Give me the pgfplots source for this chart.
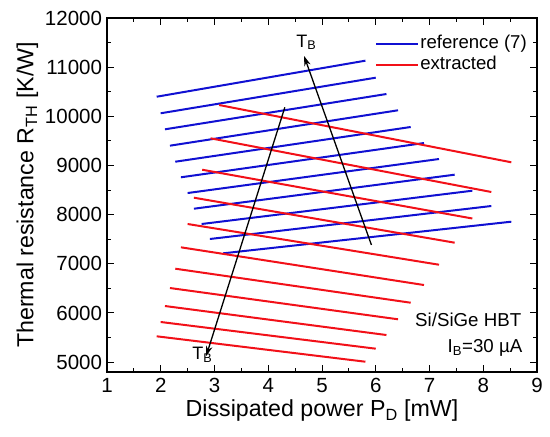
\documentclass[border=0pt]{standalone}
\usepackage{fontspec}
\setmainfont{Liberation Sans}
\usepackage{pgfplots}
\pgfplotsset{compat=1.18}
\usetikzlibrary{arrows.meta}
\definecolor{refblue}{RGB}{16,16,210}
\definecolor{extred}{RGB}{242,16,24}
\begin{document}
\begin{tikzpicture}
\begin{axis}[
  scale only axis, width=430pt, height=354pt,
  xmin=1, xmax=9, ymin=4800, ymax=12000,
  xtick={1,2,...,9}, minor x tick num=1,
  ytick={5000,6000,...,12000}, minor y tick num=1,
  scaled y ticks=false,
  /pgf/number format/1000 sep={},
  /pgf/number format/assume math mode=true,
  tick align=inside, major tick length=7pt, minor tick length=4pt,
  every tick/.style={black, line width=1pt},
  axis line style={line width=1.2pt},
  tick label style={font=\fontsize{20.5}{24}\selectfont},
  x tick label style={yshift=-3pt},
  y tick label style={xshift=-1.5pt},
  label style={font=\fontsize{23.2}{27}\selectfont},
  xlabel={Dissipated power P\textsubscript{D} [mW]},
  ylabel={Thermal resistance R\textsubscript{TH} [K/W]},
  legend style={draw=none, fill=none, at={(axis description cs:1,1)}, anchor=north east,
    xshift=-9pt, yshift=-16pt, inner sep=0pt, row sep=2.3pt,
    font=\fontsize{18.6}{21}\selectfont,
    nodes={inner sep=1pt, text height=13pt, text depth=4pt}},
  legend cell align=left,
  legend image code/.code={\draw[#1] (0pt,0pt) -- (42pt,0pt);},
  refl/.style={refblue, line width=2pt},
  extl/.style={extred, line width=2pt},
]
% reference (7) lines
\addplot[refl] coordinates {(1.924,10399) (5.808,11132)};
\addlegendentry{reference (7)}
\addplot[refl, forget plot] coordinates {(1.998,10062) (6.000,10786)};
\addplot[refl, forget plot] coordinates {(2.078,9736) (6.199,10454)};
\addplot[refl, forget plot] coordinates {(2.171,9403) (6.415,10123)};
\addplot[refl, forget plot] coordinates {(2.270,9077) (6.650,9783)};
\addplot[refl, forget plot] coordinates {(2.375,8760) (6.898,9457)};
\addplot[refl, forget plot] coordinates {(2.500,8440) (7.177,9132)};
\addplot[refl, forget plot] coordinates {(2.617,8121) (7.468,8813)};
\addplot[refl, forget plot] coordinates {(2.760,7810) (7.797,8487)};
\addplot[refl, forget plot] coordinates {(2.914,7505) (8.150,8176)};
\addplot[refl, forget plot] coordinates {(3.162,7214) (8.522,7857)};
% extracted lines
\addplot[extl] coordinates {(3.087,10230) (8.522,9065)};
\addlegendentry{extracted}
\addplot[extl, forget plot] coordinates {(2.927,9553) (8.150,8461)};
\addplot[extl, forget plot] coordinates {(2.771,8914) (7.797,7922)};
\addplot[extl, forget plot] coordinates {(2.617,8345) (7.468,7430)};
\addplot[extl, forget plot] coordinates {(2.500,7810) (7.177,6982)};
\addplot[extl, forget plot] coordinates {(2.375,7336) (6.898,6569)};
\addplot[extl, forget plot] coordinates {(2.270,6901) (6.650,6209)};
\addplot[extl, forget plot] coordinates {(2.171,6508) (6.415,5872)};
\addplot[extl, forget plot] coordinates {(2.078,6142) (6.199,5552)};
\addplot[extl, forget plot] coordinates {(1.998,5817) (6.000,5274)};
\addplot[extl, forget plot] coordinates {(1.924,5526) (5.808,5009)};
% arrows and labels
\draw[-{Stealth[length=10pt,width=6.5pt]}, line width=1.3pt] (axis cs:5.92,7383) -- (axis cs:4.667,11227);
\draw[-{Stealth[length=10pt,width=6.5pt]}, line width=1.3pt] (axis cs:4.309,10184) -- (axis cs:2.845,5125);
\node[anchor=base west, inner sep=0pt, font=\fontsize{18}{20}\selectfont] at (axis cs:4.52,11410) {T\textsubscript{B}};
\node[anchor=base west, inner sep=0pt, font=\fontsize{18}{20}\selectfont] at (axis cs:2.585,5058) {T\textsubscript{B}};
\node[anchor=base east, inner sep=0pt, font=\fontsize{18.7}{21}\selectfont] at (axis cs:8.71,5735) {Si/SiGe HBT};
\node[anchor=base east, inner sep=0pt, font=\fontsize{18.7}{21}\selectfont] at (axis cs:8.73,5192) {I\textsubscript{B}=30 µA};
\end{axis}
\path (current axis.south west) ++(-107pt,-65pt) coordinate (bbl);
\path (current axis.north east) ++(13pt,18pt) coordinate (btr);
\pgfresetboundingbox
\path (bbl) rectangle (btr);
\end{tikzpicture}
\end{document}
